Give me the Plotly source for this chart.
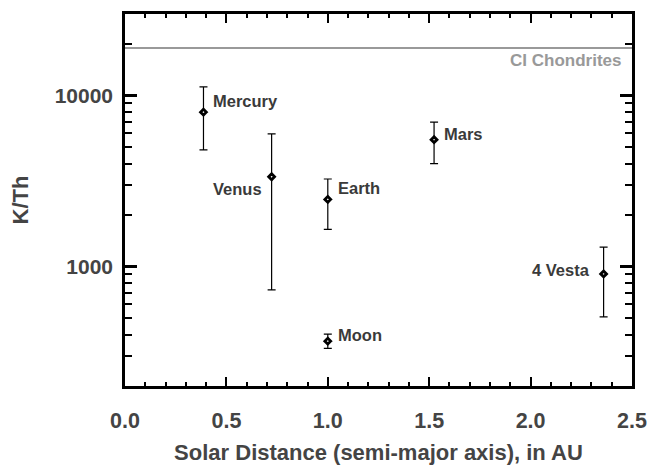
import numpy as np
import plotly.graph_objects as go

# Data
bodies = ["Mercury", "Venus", "Earth", "Mars", "Moon", "4 Vesta"]
distance_au = [0.387, 0.723, 1.0, 1.524, 1.0, 2.36]
k_th = [8000, 3350, 2470, 5520, 366, 905]
k_th_upper = [11250, 5970, 3250, 7000, 402, 1300]
k_th_lower = [4810, 730, 1650, 4000, 332, 507]
ci_chondrites = 19000

x_ticks = [0.0, 0.5, 1.0, 1.5, 2.0, 2.5]
x_ticklabels = ["0.0", "0.5", "1.0", "1.5", "2.0", "2.5"]
y_ticks = [1000, 10000]
y_ticklabels = ["1000", "10000"]
y_minor = [300, 400, 500, 600, 700, 800, 900,
           2000, 3000, 4000, 5000, 6000, 7000, 8000, 9000, 20000]

# label placement styles (xanchor, xshift, yshift)
label_style = {
    "Mercury": ("left", 8, 11),
    "Venus": ("right", -8, -12),
    "Earth": ("left", 8, 11),
    "Mars": ("left", 8, 6),
    "Moon": ("left", 8, 6),
    "4 Vesta": ("right", -12, 4),
}

err_plus = [u - v for u, v in zip(k_th_upper, k_th)]
err_minus = [v - l for v, l in zip(k_th, k_th_lower)]

fig = go.Figure()
fig.add_trace(go.Scatter(
    x=distance_au, y=k_th, mode="markers",
    marker=dict(symbol="diamond", size=4.5, color="white",
                line=dict(color="black", width=2.8)),
    error_y=dict(type="data", symmetric=False, array=err_plus,
                 arrayminus=err_minus, color="black", thickness=1.2, width=4),
    showlegend=False, hoverinfo="skip",
))

fig.add_shape(type="line", xref="paper", x0=0, x1=1, yref="y",
              y0=ci_chondrites, y1=ci_chondrites,
              line=dict(color="#999999", width=2))

font_family = "Liberation Sans, Arial, sans-serif"
for name, xv, yv in zip(bodies, distance_au, k_th):
    anchor, xs, ys = label_style[name]
    fig.add_annotation(x=xv, y=np.log10(yv), text=f"<b>{name}</b>",
                       showarrow=False, xanchor=anchor, yanchor="middle",
                       xshift=xs, yshift=ys,
                       font=dict(family=font_family, size=16.5, color="#3a3a3a"))

fig.add_annotation(x=1, xref="paper", y=np.log10(ci_chondrites), yref="y",
                   text="<b>CI Chondrites</b>", showarrow=False,
                   xanchor="right", yanchor="top", xshift=-9, yshift=-1,
                   font=dict(family=font_family, size=17, color="#999999"))

axis_common = dict(
    showgrid=False, zeroline=False, showline=True, linecolor="black",
    linewidth=2.5, ticks="inside", mirror="ticks", tickcolor="black",
    automargin=False,
)

fig.update_xaxes(
    **axis_common, range=[0, 2.5], tickvals=x_ticks, ticktext=x_ticklabels,
    ticklen=9, tickwidth=2, ticklabelstandoff=13,
    minor=dict(ticks="inside", dtick=0.1, ticklen=4, tickwidth=2,
               tickcolor="black", showgrid=False),
    tickfont=dict(family=font_family, size=21.5, color="#444444", weight="bold"),
    title=dict(text="<b>Solar Distance (semi-major axis), in AU</b>",
               font=dict(family=font_family, size=22, color="#444444"),
               standoff=14),
)
fig.update_yaxes(
    **axis_common, type="log", range=[np.log10(200), np.log10(30000)],
    tickvals=y_ticks, ticktext=y_ticklabels, ticklen=12, tickwidth=2.5,
    ticklabelstandoff=5,
    minor=dict(ticks="inside", tickvals=y_minor, ticklen=7, tickwidth=2,
               tickcolor="black", showgrid=False),
    tickfont=dict(family=font_family, size=21, color="#444444", weight="bold"),
    title=dict(text="<b>K/Th</b>",
               font=dict(family=font_family, size=22, color="#444444"),
               standoff=20),
)

fig.update_layout(
    width=648, height=466,
    margin=dict(l=125, r=16, t=14, b=80),
    paper_bgcolor="white", plot_bgcolor="white",
    font=dict(family=font_family),
)

fig.write_html("out.html")
